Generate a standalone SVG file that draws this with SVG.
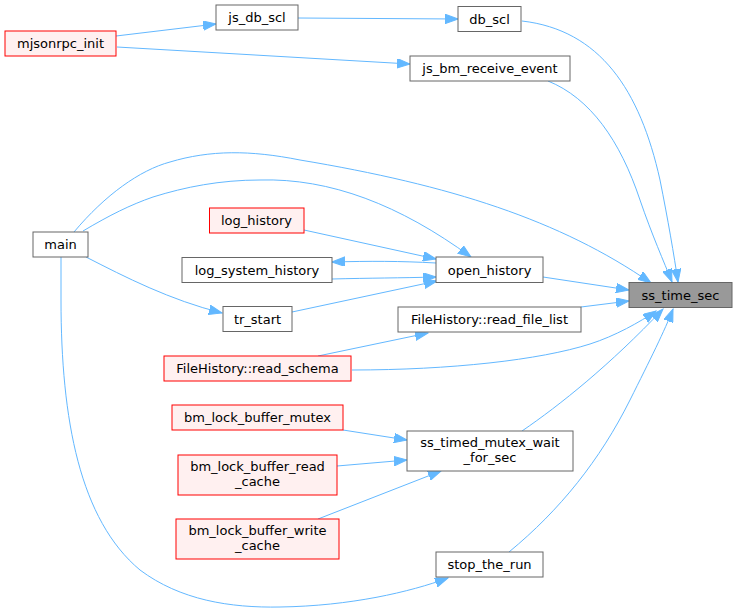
<svg xmlns="http://www.w3.org/2000/svg" width="737" height="613" viewBox="0 0 737 613">
<style>
.n rect{fill:#ffffff;stroke:#666666;stroke-width:1}
.r rect{fill:#fff0f0;stroke:#ff0000;stroke-width:1}
.f rect{fill:#999999;stroke:#666666;stroke-width:1}
text{font-family:"DejaVu Sans","Liberation Sans",sans-serif;font-size:13px;fill:#000000;text-anchor:middle}
#edges path{fill:none;stroke:#63b8ff;stroke-width:1;marker-end:url(#ah)}
</style>
<defs>
<marker id="ah" markerUnits="userSpaceOnUse" markerWidth="14" markerHeight="10" refX="13" refY="4.75" orient="auto">
<path d="M0,0 L13,4.75 L0,9.5 Z" fill="#63b8ff" stroke="#63b8ff" stroke-width="1"/>
</marker>
</defs>
<rect width="737" height="613" fill="#ffffff"/>
<g id="edges">
<path d="M298,18 L458,19"/>
<path d="M116,36 L216,24"/>
<path d="M117,47 L410,64"/>
<path d="M522,21 C600,30 640,90 660,180 C668,220 674,255 678,282"/>
<path d="M548,81 C590,98 620,140 640,200 C652,235 664,262 672,282"/>
<path d="M74,232 C105,195 140,170 170,162 C210,150 250,150 300,160 C450,185 560,220 651,283"/>
<path d="M83,231 C110,215 130,205 153,197 C185,187 220,180 260,180 C330,178 400,205 471,257"/>
<path d="M86,257 C125,277 170,300 222,313"/>
<path d="M61,257 L61,300 C61,420 80,520 140,570 C180,600 230,608 280,607 C350,606 410,592 448,578"/>
<path d="M304,230 L436,259"/>
<path d="M436,263 C400,261 370,261 332,262"/>
<path d="M332,279 C370,278 400,278 436,277"/>
<path d="M292,312 L437,281"/>
<path d="M543,277 L629,290"/>
<path d="M581,307 L629,301"/>
<path d="M318,356 L428,333"/>
<path d="M352,370 C450,370 540,360 590,344 C615,336 640,322 656,311"/>
<path d="M522,431 C560,405 610,365 663,309"/>
<path d="M509,552 C560,510 600,460 630,400 C650,360 665,330 673,309"/>
<path d="M343,430 L407,440"/>
<path d="M337,466 L407,460"/>
<path d="M318,519 L441,471"/>
</g>
<g id="node_ss_time_sec" class="f"><rect x="629" y="282.5" width="103" height="25"/><text x="680.5" y="299.5">ss_time_sec</text></g>
<g id="node_db_scl" class="n"><rect x="458" y="6.5" width="63" height="25"/><text x="489.5" y="23.5">db_scl</text></g>
<g id="node_js_db_scl" class="n"><rect x="216" y="5" width="82" height="25"/><text x="257" y="22">js_db_scl</text></g>
<g id="node_mjsonrpc_init" class="r"><rect x="5" y="31" width="111" height="25"/><text x="60.5" y="48">mjsonrpc_init</text></g>
<g id="node_js_bm_receive_event" class="n"><rect x="410" y="56" width="160" height="25"/><text x="490" y="73">js_bm_receive_event</text></g>
<g id="node_main" class="n"><rect x="33" y="232" width="55" height="25"/><text x="60.5" y="249">main</text></g>
<g id="node_log_history" class="r"><rect x="209.5" y="208" width="94.5" height="25"/><text x="256.5" y="225">log_history</text></g>
<g id="node_log_system_history" class="n"><rect x="182" y="257.5" width="150" height="25"/><text x="257" y="274.5">log_system_history</text></g>
<g id="node_open_history" class="n"><rect x="436" y="257" width="107" height="25.5"/><text x="489.5" y="274.5">open_history</text></g>
<g id="node_read_file_list" class="n"><rect x="398" y="307" width="183" height="25"/><text x="489.5" y="324">FileHistory::read_file_list</text></g>
<g id="node_tr_start" class="n"><rect x="223" y="306.5" width="69" height="25"/><text x="257.5" y="323.5">tr_start</text></g>
<g id="node_read_schema" class="r"><rect x="164" y="356" width="187" height="25"/><text x="257.5" y="373">FileHistory::read_schema</text></g>
<g id="node_bm_lock_buffer_mutex" class="r"><rect x="172" y="405" width="171" height="25"/><text x="257.5" y="422">bm_lock_buffer_mutex</text></g>
<g id="node_bm_lock_buffer_read_cache" class="r"><rect x="178" y="455" width="159" height="40"/><text x="257.5" y="471">bm_lock_buffer_read</text><text x="257.5" y="486">_cache</text></g>
<g id="node_bm_lock_buffer_write_cache" class="r"><rect x="176" y="519" width="163" height="40"/><text x="257.5" y="535">bm_lock_buffer_write</text><text x="257.5" y="550">_cache</text></g>
<g id="node_ss_timed_mutex_wait_for_sec" class="n"><rect x="407" y="431" width="166" height="40"/><text x="490" y="447">ss_timed_mutex_wait</text><text x="490" y="462">_for_sec</text></g>
<g id="node_stop_the_run" class="n"><rect x="436" y="552" width="107" height="25"/><text x="489.5" y="569">stop_the_run</text></g>
</svg>
